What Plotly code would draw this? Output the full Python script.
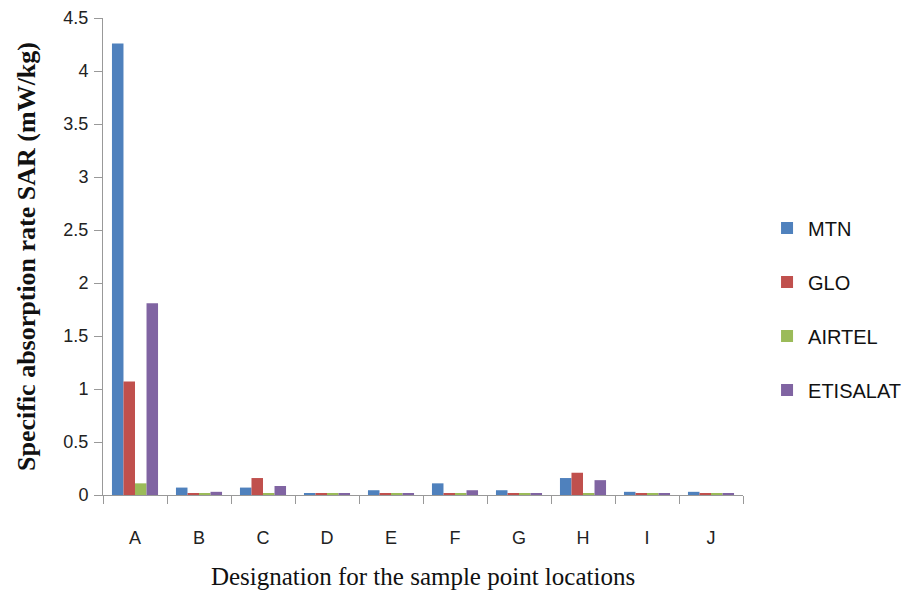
import plotly.graph_objects as go

categories = ["A", "B", "C", "D", "E", "F", "G", "H", "I", "J"]
mtn = [4.26, 0.07, 0.07, 0.015, 0.045, 0.11, 0.045, 0.16, 0.03, 0.03]
glo = [1.07, 0.015, 0.16, 0.015, 0.015, 0.015, 0.015, 0.21, 0.015, 0.015]
airtel = [0.11, 0.012, 0.012, 0.015, 0.015, 0.01, 0.012, 0.01, 0.015, 0.015]
etisalat = [1.81, 0.03, 0.085, 0.015, 0.015, 0.045, 0.015, 0.14, 0.015, 0.015]

series = [("MTN", mtn, "#4F81BD"), ("GLO", glo, "#C0504D"),
          ("AIRTEL", airtel, "#9BBB59"), ("ETISALAT", etisalat, "#8064A2")]

fig = go.Figure()
for name, vals, col in series:
    fig.add_trace(go.Bar(x=categories, y=vals, name=name, legendgroup=name,
                         marker=dict(color=col, line=dict(width=0))))

tickfont = dict(family="Liberation Sans Narrow, Liberation Sans, Arial", size=18, color="#222")
fig.update_layout(
    width=906, height=590,
    margin=dict(l=103, r=163, t=18, b=95, autoexpand=False),
    paper_bgcolor="white", plot_bgcolor="white",
    barmode="group", bargap=0.28, bargroupgap=0,
    showlegend=True,
    legend=dict(x=1.036, y=0.39, xanchor="left", yanchor="middle",
                font=dict(family="Liberation Sans Narrow, Liberation Sans, Arial", size=20, color="#111"),
                tracegroupgap=25, itemwidth=32, traceorder="grouped"),
    xaxis=dict(showline=True, linecolor="#999", linewidth=1, ticks="outside",
               tickson="boundaries", ticklen=8, tickcolor="#999", automargin=False,
               tickfont=tickfont, showgrid=False, ticklabelstandoff=26,
               title=dict(text="Designation for the sample point locations",
                          font=dict(family="Liberation Serif, Times New Roman", size=25, color="#111"),
                          standoff=20)),
    yaxis=dict(range=[0, 4.5], dtick=0.5, showline=True, linecolor="#999", linewidth=1,
               ticks="outside", ticklen=8, tickcolor="#999", showgrid=False, zeroline=False,
               tickfont=tickfont, ticklabelstandoff=2, automargin=False,
               title=dict(text="<b>Specific absorption rate SAR (mW/kg)</b>",
                          font=dict(family="Liberation Serif, Times New Roman", size=26, color="#111"),
                          standoff=20)),
)
fig.write_html("out.html")
